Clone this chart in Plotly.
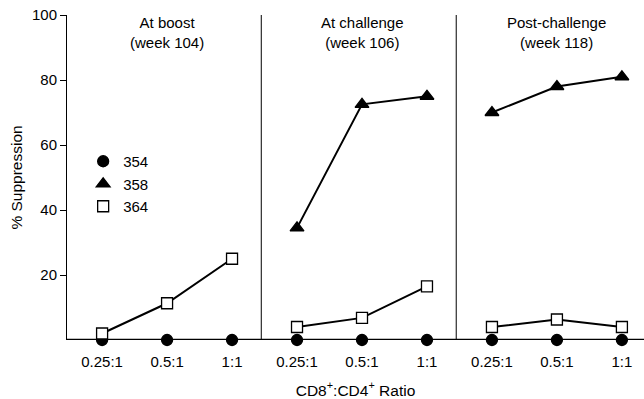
import plotly.graph_objects as go

panels = ["At boost<br>(week 104)", "At challenge<br>(week 106)", "Post-challenge<br>(week 118)"]
ratios = ["0.25:1", "0.5:1", "1:1"]
# values per panel (3 ratios each); None = not shown
s354 = [[0, 0, 0], [0, 0, 0], [0, 0, 0]]
s358 = [[None, None, None], [34.5, 72.5, 75], [70, 78, 81]]
s364 = [[2, 11.3, 25], [4, 6.8, 16.5], [4, 6.3, 4]]

series = [("354", s354, "circle", "black", 11),
          ("358", s358, "triangle-up", "black", 12),
          ("364", s364, "square", "white", 11)]

def flatten(vals):
    xs, ys = [], []
    for p, row in enumerate(vals):
        for i, v in enumerate(row):
            xs.append(p * len(ratios) + i)
            ys.append(v)
        xs.append(None)
        ys.append(None)
    return xs, ys

fig = go.Figure()
for name, vals, sym, fill, sz in series:
    xs, ys = flatten(vals)
    fig.add_trace(go.Scatter(
        x=xs, y=ys, mode="lines+markers", name=name, showlegend=False,
        line=dict(color="black", width=2),
        marker=dict(symbol=sym, size=sz, color=fill, line=dict(color="black", width=1.3)),
        cliponaxis=False))
    fig.add_trace(go.Scatter(
        x=[None], y=[None], mode="markers", name=name, showlegend=True, legendgroup=name,
        marker=dict(symbol=sym, size=sz, color=fill, line=dict(color="black", width=1.3))))

n = len(ratios)
tickvals = [p * n + i for p in range(len(panels)) for i in range(n)]
ticktext = ratios * len(panels)

for p in range(1, len(panels)):
    fig.add_shape(type="line", xref="x", yref="paper", x0=p * n - 0.55, x1=p * n - 0.55,
                  y0=0, y1=1, line=dict(color="black", width=1))

for p, t in enumerate(panels):
    fig.add_annotation(x=p * n + 1, y=1.01, xref="x", yref="paper", yanchor="top",
                       text=t, showarrow=False, font=dict(size=15, color="black"))

fig.update_layout(
    width=644, height=399,
    margin=dict(l=67, r=0, t=15, b=59),
    paper_bgcolor="white", plot_bgcolor="white",
    font=dict(family="Liberation Sans, Arial, sans-serif", size=15, color="black"),
    legend=dict(x=0.028, y=0.6, xanchor="left", yanchor="top",
                bgcolor="rgba(0,0,0,0)", font=dict(size=15), itemwidth=30,
                tracegroupgap=0),
    xaxis=dict(range=[-0.54, 8.34], tickvals=tickvals, ticktext=ticktext,
               showgrid=False, zeroline=False, showline=False, ticks="",
               tickfont=dict(size=15), ticklabelstandoff=11,
               title=dict(text="CD8<sup>+</sup>:CD4<sup>+</sup> Ratio", font=dict(size=15.5), standoff=16)),
    yaxis=dict(range=[0, 100], tickvals=[20, 40, 60, 80, 100],
               showgrid=False, zeroline=False, showline=True, linecolor="black", linewidth=1,
               ticks="outside", ticklen=6, tickcolor="black", tickfont=dict(size=15),
               title=dict(text="% Suppression", font=dict(size=15.5), standoff=5)),
)
fig.add_shape(type="line", xref="paper", yref="y", x0=0, x1=1, y0=0, y1=0,
              layer="below", line=dict(color="black", width=2.5))

fig.write_html("out.html", config={"displayModeBar": False},
               post_script="document.body.style.margin='0';")
